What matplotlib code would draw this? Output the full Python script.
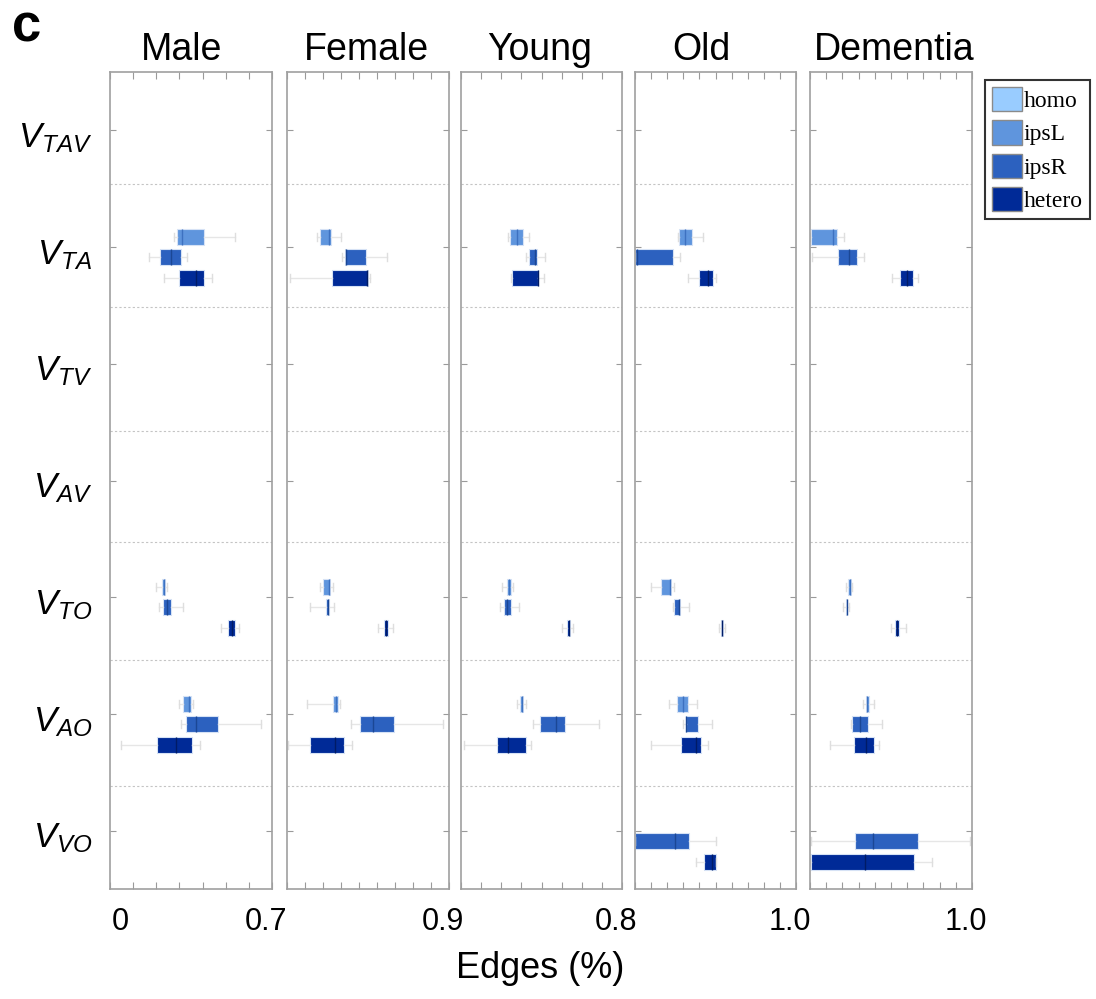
import matplotlib
matplotlib.use('Agg')
import matplotlib.pyplot as plt
import matplotlib.transforms as mtransforms
from matplotlib.patches import Patch
import numpy as np

plt.rcParams['font.family'] = ['Liberation Sans', 'DejaVu Sans']
plt.rcParams['mathtext.fontset'] = 'custom'
plt.rcParams['mathtext.it'] = 'Liberation Sans:italic'
plt.rcParams['mathtext.rm'] = 'Liberation Sans'

panels = ['Male', 'Female', 'Young', 'Old', 'Dementia']
rows = [r'$V_{TAV}$', r'$V_{TA}$', r'$V_{TV}$', r'$V_{AV}$', r'$V_{TO}$', r'$V_{AO}$', r'$V_{VO}$']
groups = ['homo', 'ipsL', 'ipsR', 'hetero']
colors = ['#99CCFF', '#5F95DD', '#2C61BF', '#002A97']
median_colors = ['#6fa6e0', '#3d71c0', '#1b4795', '#001b66']

xlims = [(0, 0.7), (0.45, 0.9), (0.4, 0.8), (0, 1.0), (0, 1.0)]
xsteps = [0.1, 0.05, 0.05, 0.1, 0.1]
left_label = '0'
right_labels = ['0.7', '0.9', '0.8', '1.0', '1.0']

# (row, group, whislo, q1, median, q3, whishi)
male = [
    (1, 1, 0.277, 0.288, 0.311, 0.406, 0.539),
    (1, 2, 0.169, 0.216, 0.262, 0.307, 0.334),
    (1, 3, 0.232, 0.297, 0.370, 0.407, 0.442),
    (4, 1, 0.199, 0.226, 0.232, 0.236, 0.248),
    (4, 2, 0.213, 0.229, 0.245, 0.264, 0.314),
    (4, 3, 0.478, 0.511, 0.527, 0.539, 0.559),
    (5, 1, 0.299, 0.314, 0.343, 0.349, 0.360),
    (5, 2, 0.305, 0.330, 0.370, 0.467, 0.651),
    (5, 3, 0.048, 0.202, 0.286, 0.354, 0.389),
]
female = [
    (1, 1, 0.534, 0.542, 0.566, 0.573, 0.601),
    (1, 2, 0.602, 0.610, 0.614, 0.669, 0.729),
    (1, 3, 0.458, 0.576, 0.671, 0.674, 0.680),
    (4, 1, 0.541, 0.550, 0.566, 0.569, 0.577),
    (4, 2, 0.514, 0.558, 0.563, 0.568, 0.581),
    (4, 3, 0.702, 0.719, 0.725, 0.731, 0.745),
    (5, 1, 0.505, 0.579, 0.586, 0.593, 0.597),
    (5, 2, 0.628, 0.653, 0.688, 0.747, 0.884),
    (5, 3, 0.454, 0.514, 0.583, 0.608, 0.631),
]
young = [
    (1, 1, 0.517, 0.522, 0.540, 0.555, 0.568),
    (1, 2, 0.561, 0.568, 0.585, 0.588, 0.609),
    (1, 3, 0.524, 0.526, 0.591, 0.592, 0.607),
    (4, 1, 0.501, 0.514, 0.520, 0.523, 0.530),
    (4, 2, 0.497, 0.508, 0.514, 0.523, 0.545),
    (4, 3, 0.651, 0.663, 0.668, 0.672, 0.679),
    (5, 1, 0.540, 0.547, 0.551, 0.553, 0.561),
    (5, 2, 0.580, 0.597, 0.635, 0.659, 0.743),
    (5, 3, 0.407, 0.490, 0.517, 0.561, 0.575),
]
old = [
    (1, 1, 0.269, 0.275, 0.311, 0.354, 0.420),
    (1, 2, 0.000, 0.000, 0.010, 0.234, 0.280),
    (1, 3, 0.331, 0.399, 0.455, 0.486, 0.503),
    (4, 1, 0.099, 0.163, 0.217, 0.224, 0.242),
    (4, 2, 0.236, 0.242, 0.271, 0.281, 0.335),
    (4, 3, 0.520, 0.532, 0.540, 0.547, 0.561),
    (5, 1, 0.213, 0.263, 0.296, 0.327, 0.383),
    (5, 2, 0.300, 0.315, 0.319, 0.391, 0.476),
    (5, 3, 0.099, 0.286, 0.379, 0.412, 0.453),
    (6, 2, 0.000, 0.000, 0.250, 0.334, 0.503),
    (6, 3, 0.379, 0.429, 0.478, 0.501, 0.503),
]
dementia = [
    (1, 1, 0.000, 0.004, 0.140, 0.165, 0.212),
    (1, 2, 0.010, 0.171, 0.243, 0.290, 0.335),
    (1, 3, 0.504, 0.557, 0.601, 0.634, 0.669),
    (4, 1, 0.222, 0.235, 0.245, 0.251, 0.261),
    (4, 2, 0.206, 0.220, 0.227, 0.230, 0.239),
    (4, 3, 0.498, 0.527, 0.539, 0.549, 0.591),
    (5, 1, 0.325, 0.344, 0.354, 0.364, 0.395),
    (5, 2, 0.251, 0.261, 0.307, 0.356, 0.444),
    (5, 3, 0.123, 0.270, 0.344, 0.395, 0.428),
    (6, 2, 0.004, 0.278, 0.387, 0.667, 0.988),
    (6, 3, 0.000, 0.004, 0.338, 0.642, 0.751),
]
panel_stats = [male, female, young, old, dementia]

# dashed separators between rows (row units, rows at 1..7)
separators = [1.46, 2.51, 3.58, 4.53, 5.54, 6.62]
group_offsets = [-0.265, -0.088, 0.088, 0.265]
title_x = [0.44, 0.49, 0.49, 0.41, 0.52]

W, H = 1096, 999
fig = plt.figure(figsize=(W / 100, H / 100), dpi=100)

ax_left = [110, 287, 461, 635, 810]
ax_width = [162, 162, 161, 161, 162]
ax_top, ax_bottom = 72, 889

axes = []
for i, name in enumerate(panels):
    ax = fig.add_axes([ax_left[i] / W, 1 - ax_bottom / H, ax_width[i] / W, (ax_bottom - ax_top) / H])
    axes.append(ax)
    lo, hi = xlims[i]
    ax.set_xlim(lo, hi)
    ax.set_ylim(len(rows) + 0.5, 0.5)

    for s in separators:
        ax.axhline(s, color='#c4c4c4', lw=0.8, ls=(0, (2, 2)), zorder=1)

    for (r, g, wl, q1, med, q3, wh) in panel_stats[i]:
        d = {'whislo': wl, 'q1': q1, 'med': med, 'q3': q3, 'whishi': wh, 'fliers': []}
        ax.bxp([d], positions=[r + 1 + group_offsets[g]], widths=0.137,
               orientation='horizontal', patch_artist=True, showfliers=False,
               manage_ticks=False,
               boxprops=dict(facecolor=colors[g], edgecolor='#d6e2f5', linewidth=0.8),
               medianprops=dict(color=median_colors[g], linewidth=1.0),
               whiskerprops=dict(color='#e6e6e6', linewidth=1.0),
               capprops=dict(color='#dedede', linewidth=1.0))

    ax.set_xticks(np.arange(lo, hi + 1e-9, xsteps[i]))
    ax.set_xticklabels([])
    ax.set_yticks(np.arange(1, len(rows) + 1))
    ax.set_yticklabels([])
    ax.tick_params(axis='x', direction='in', top=True, bottom=True, length=5,
                   width=0.8, color='#9a9a9a')
    ax.tick_params(axis='y', direction='in', left=True, right=True, length=4,
                   width=0.8, color='#9a9a9a')
    for sp in ax.spines.values():
        sp.set_color('#a0a0a0')
        sp.set_linewidth(1.2)

    ax.set_title(name, fontsize=27, pad=8.5, x=title_x[i])

    # axis end label under the right edge
    fig.text((ax_left[i] + ax_width[i] - 6) / W, 1 - 930 / H, right_labels[i],
             fontsize=22, ha='center', va='baseline')

fig.text(120 / W, 1 - 930 / H, left_label, fontsize=22, ha='center', va='baseline')

# row labels on the left, baseline a bit under the row centre
trans = mtransforms.blended_transform_factory(axes[0].transAxes, axes[0].transData)
trans = trans + mtransforms.ScaledTranslation(0, -0.17, fig.dpi_scale_trans)
for r, lab in enumerate(rows):
    axes[0].text(-0.11, r + 1, lab, transform=trans, fontsize=25,
                 ha='right', va='baseline')

fig.text(540 / W, 1 - 978 / H, 'Edges (%)', fontsize=26, ha='center', va='baseline')
fig.text(12 / W, 1 - 42 / H, 'c', fontsize=38, fontweight='bold', va='baseline')

handles = [Patch(facecolor=c, edgecolor='#8a8a8a', linewidth=1, label=g)
           for g, c in zip(groups, colors)]
leg = fig.legend(handles=handles, loc='upper right',
                 bbox_to_anchor=(1090 / W, 1 - 80 / H),
                 prop={'family': 'Liberation Serif', 'size': 17},
                 frameon=True, fancybox=False, edgecolor='black',
                 handlelength=1.25, handleheight=1.2, handletextpad=0.1,
                 labelspacing=0.35, borderpad=0.3, borderaxespad=0)
leg.get_frame().set_linewidth(1.5)

fig.savefig('out.png', dpi=100)
